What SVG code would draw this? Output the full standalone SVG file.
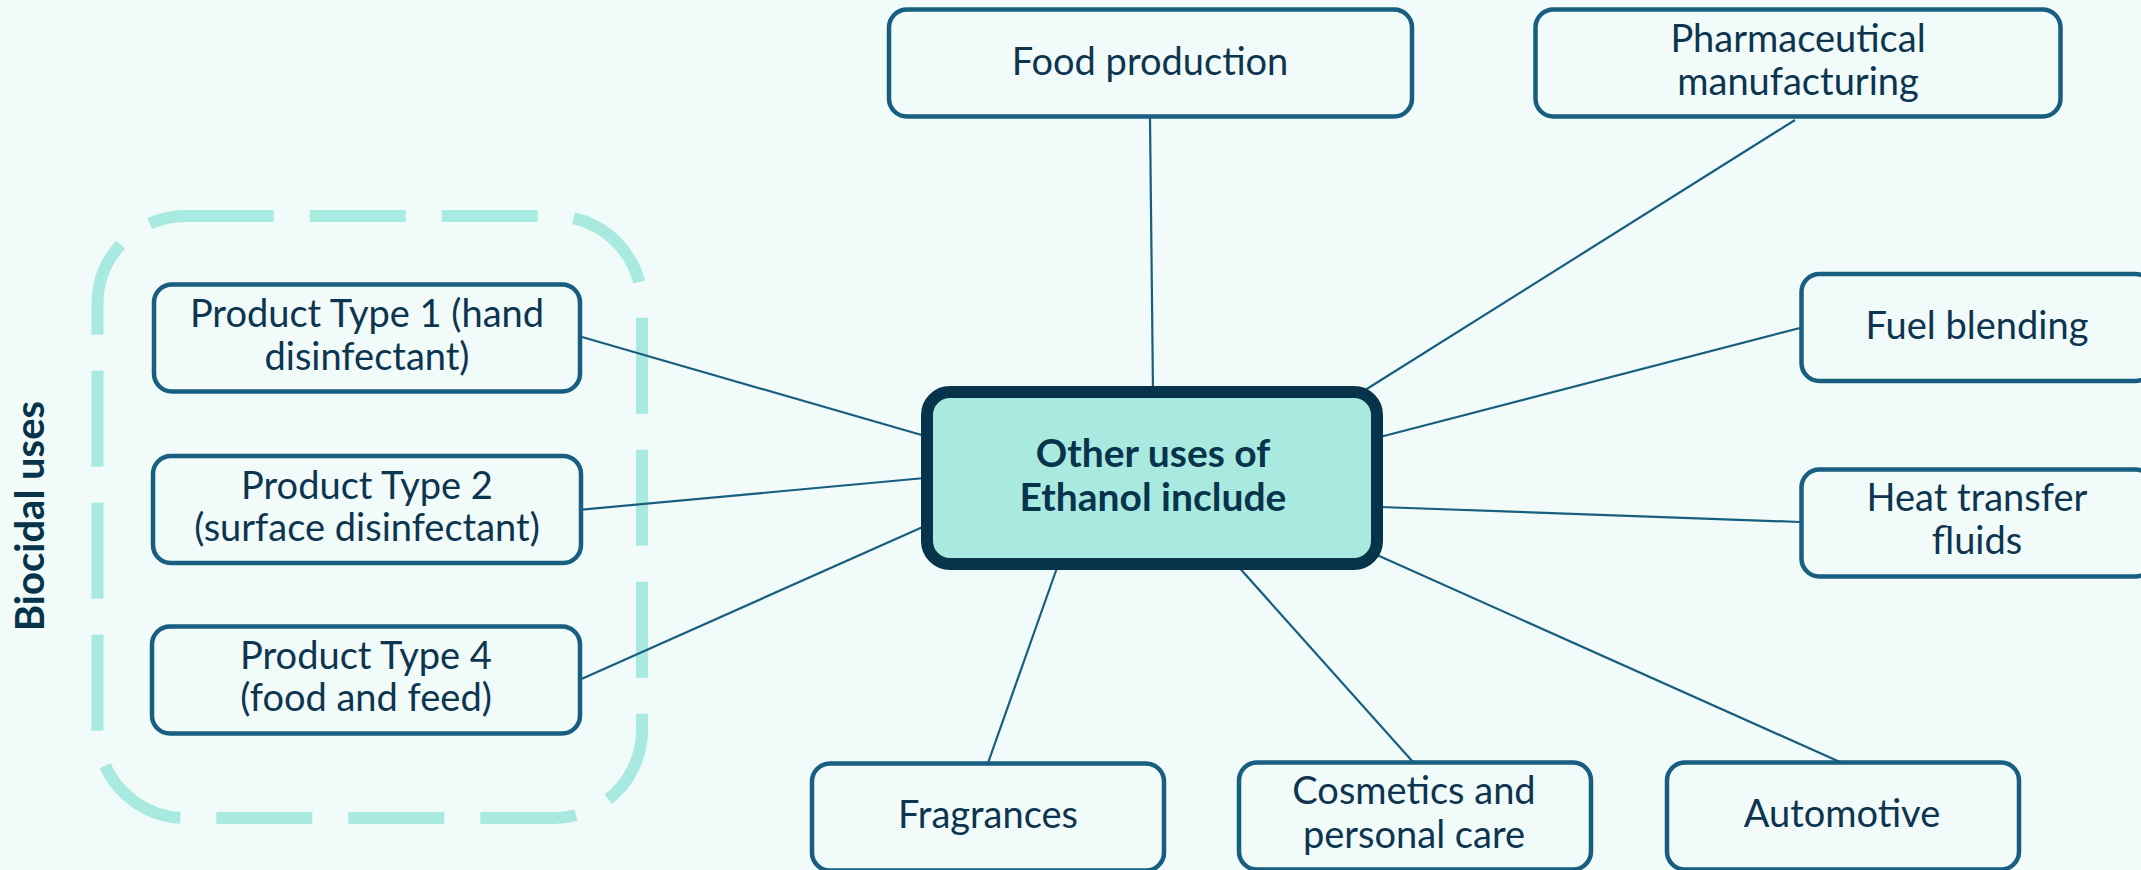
<svg xmlns="http://www.w3.org/2000/svg" width="2141" height="870" viewBox="0 0 2141 870">
<style>
.bg{fill:#f1fbf9}
.box{fill:#f1fbf9;stroke:#175e80;stroke-width:4.5}
.t{font-family:Lato,"Noto Sans",sans-serif;font-size:38px;fill:#0d3550;text-anchor:middle}
.tb{font-family:Lato,"Noto Sans",sans-serif;font-size:39px;font-weight:bold;fill:#07334b;text-anchor:middle}
.ln{stroke:#175e80;stroke-width:2.2;fill:none}
</style>
<rect class="bg" x="0" y="0" width="2141" height="870"/>
<g id="group-biocidal">
<path d="M177.7,216 L554,216 A88,88 0 0 1 642,304 L642,730 A88,88 0 0 1 554,818 L185.5,818 A88,88 0 0 1 97.5,730 L97.5,304 A88,88 0 0 1 185.5,216 Z" fill="none" stroke="#a8eae0" stroke-width="12" stroke-dasharray="96 36"/>
<text class="tb" transform="translate(44,516) rotate(-90)" style="font-size:40px">Biocidal uses</text>
</g>
<g id="connectors">
<line class="ln" x1="1150" y1="118" x2="1153" y2="392"/>
<line class="ln" x1="1795" y1="120" x2="1362" y2="392"/>
<line class="ln" x1="1800" y1="328" x2="1380" y2="437"/>
<line class="ln" x1="1800" y1="522" x2="1380" y2="507"/>
<line class="ln" x1="582" y1="337" x2="925" y2="436"/>
<line class="ln" x1="582" y1="509.6" x2="925" y2="478"/>
<line class="ln" x1="582" y1="678.7" x2="925" y2="526"/>
<line class="ln" x1="1058" y1="565" x2="988" y2="763"/>
<line class="ln" x1="1236" y1="564" x2="1413" y2="762"/>
<line class="ln" x1="1377" y1="555" x2="1840" y2="762"/>
</g>
<g id="n-center">
<rect x="927" y="394" width="450" height="172" rx="23" fill="#07334b"/>
<rect x="927" y="392" width="450" height="172" rx="23" fill="#a8eae0" stroke="#07334b" stroke-width="12"/>
<text class="tb" x="1153" y="467">Other uses of</text>
<text class="tb" x="1153" y="511">Ethanol include</text>
</g>
<g id="n-food">
<rect class="box" x="889" y="9.5" width="523" height="107" rx="18"/>
<text class="t" x="1150" y="75">Food production</text>
</g>
<g id="n-pharma">
<rect class="box" x="1535.5" y="9.5" width="525" height="107" rx="18"/>
<text class="t" x="1798" y="52">Pharmaceutical</text>
<text class="t" x="1798" y="95">manufacturing</text>
</g>
<g id="n-fuel">
<rect class="box" x="1801.5" y="274" width="352" height="107" rx="18"/>
<text class="t" x="1977" y="339">Fuel blending</text>
</g>
<g id="n-heat">
<rect class="box" x="1801.5" y="469.5" width="352" height="107" rx="18"/>
<text class="t" x="1977" y="511">Heat transfer</text>
<text class="t" x="1977" y="554">fluids</text>
</g>
<g id="n-pt1">
<rect class="box" x="154" y="284.5" width="426" height="107" rx="18"/>
<text class="t" x="367" y="327">Product Type 1 (hand</text>
<text class="t" x="367" y="370">disinfectant)</text>
</g>
<g id="n-pt2">
<rect class="box" x="153" y="456" width="428" height="107" rx="18"/>
<text class="t" x="367" y="499">Product Type 2</text>
<text class="t" x="367" y="541">(surface disinfectant)</text>
</g>
<g id="n-pt4">
<rect class="box" x="152" y="626.5" width="428" height="107" rx="18"/>
<text class="t" x="366" y="669">Product Type 4</text>
<text class="t" x="366" y="711">(food and feed)</text>
</g>
<g id="n-fragrances">
<rect class="box" x="812" y="763.5" width="352" height="107" rx="18"/>
<text class="t" x="988" y="828">Fragrances</text>
</g>
<g id="n-cosmetics">
<rect class="box" x="1239" y="762.5" width="352" height="107" rx="18"/>
<text class="t" x="1414" y="804">Cosmetics and</text>
<text class="t" x="1414" y="848">personal care</text>
</g>
<g id="n-automotive">
<rect class="box" x="1667" y="762.5" width="352" height="107" rx="18"/>
<text class="t" x="1842" y="827">Automotive</text>
</g>
</svg>
